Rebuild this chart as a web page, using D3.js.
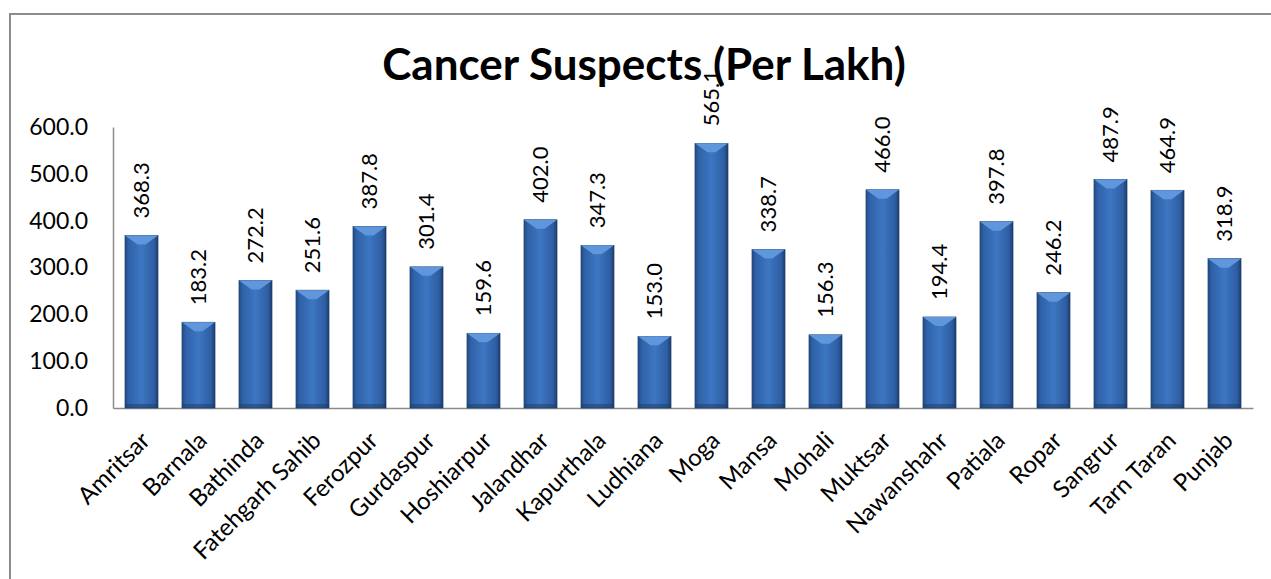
<!DOCTYPE html>
<html>
<head>
<meta charset="utf-8">
<script src="https://cdn.jsdelivr.net/npm/d3@7"></script>
<style>
    body { margin: 0; background: #fff; }
    svg { display: block; font-family: Lato, "Open Sans", sans-serif; }
</style>
</head>
<body>
<svg id="chart" width="1271" height="579"></svg>
<script>
let districts = ['Amritsar', 'Barnala', 'Bathinda', 'Fatehgarh Sahib', 'Ferozpur', 'Gurdaspur',
    'Hoshiarpur', 'Jalandhar', 'Kapurthala', 'Ludhiana', 'Moga', 'Mansa', 'Mohali', 'Muktsar',
    'Nawanshahr', 'Patiala', 'Ropar', 'Sangrur', 'Tarn Taran', 'Punjab'];
let suspects = [368.3, 183.2, 272.2, 251.6, 387.8, 301.4, 159.6, 402.0, 347.3, 153.0,
    565.1, 338.7, 156.3, 466.0, 194.4, 397.8, 246.2, 487.9, 464.9, 318.9];
let yTicks = [0, 100, 200, 300, 400, 500, 600];
let title = 'Cancer Suspects (Per Lakh)';

function draw() {
    const svg = d3.select('#chart');

    // outer chart frame (only top/left edges show in the picture)
    svg.append('rect')
        .attr('x', 10).attr('y', 14)
        .attr('width', 1400).attr('height', 700)
        .attr('fill', 'none')
        .attr('stroke', '#8c8c8c')
        .attr('stroke-width', 2);

    const x = d3.scaleBand()
        .domain(districts)
        .range([113, 1253])
        .paddingInner(0.42)
        .paddingOuter(0.21);

    const y = d3.scaleLinear()
        .domain([0, 600])
        .range([408, 127]);

    // bar gradient
    const defs = svg.append('defs');
    const grad = defs.append('linearGradient')
        .attr('id', 'barGrad')
        .attr('x1', '0%').attr('x2', '100%')
        .attr('y1', '0%').attr('y2', '0%');
    grad.append('stop').attr('offset', '0%').attr('stop-color', '#244c86');
    grad.append('stop').attr('offset', '12%').attr('stop-color', '#2f62a8');
    grad.append('stop').attr('offset', '50%').attr('stop-color', '#3d76c2');
    grad.append('stop').attr('offset', '88%').attr('stop-color', '#2e5ea2');
    grad.append('stop').attr('offset', '100%').attr('stop-color', '#1c3d6e');

    // axes
    const yAxis = d3.axisLeft(y)
        .tickValues(yTicks)
        .tickSize(0)
        .tickPadding(25)
        .tickFormat(d3.format('.1f'));
    const gy = svg.append('g')
        .attr('transform', 'translate(113,0)')
        .call(yAxis);
    gy.select('.domain').attr('stroke', '#8c8c8c').attr('stroke-width', 1.5);
    gy.selectAll('text')
        .attr('font-size', 23)
        .attr('font-family', 'Lato, sans-serif')
        .attr('fill', '#000');

    const xAxis = d3.axisBottom(x).tickSize(0).tickFormat('');
    const gx = svg.append('g')
        .attr('transform', 'translate(0,408)')
        .call(xAxis);
    gx.select('.domain').attr('stroke', '#8c8c8c').attr('stroke-width', 1.5);

    // bars
    const bars = svg.append('g')
        .selectAll('g')
        .data(districts)
        .join('g');

    bars.append('rect')
        .attr('x', d => x(d))
        .attr('y', (d, i) => y(suspects[i]))
        .attr('width', x.bandwidth())
        .attr('height', (d, i) => y(0) - y(suspects[i]))
        .attr('fill', 'url(#barGrad)')
        .attr('stroke', '#1a3a66')
        .attr('stroke-width', 0.6);

    // top bevel
    bars.append('path')
        .attr('d', (d, i) => {
            const x0 = x(d), x1 = x(d) + x.bandwidth(), top = y(suspects[i]);
            const cx = (x0 + x1) / 2;
            return 'M' + x0 + ',' + top + 'L' + x1 + ',' + top +
                'L' + (cx + 4) + ',' + (top + 9) + 'L' + (cx - 4) + ',' + (top + 9) + 'Z';
        })
        .attr('fill', '#5f96dc');

    // bottom shadow
    bars.append('rect')
        .attr('x', d => x(d))
        .attr('y', 404)
        .attr('width', x.bandwidth())
        .attr('height', 4)
        .attr('fill', '#1c3b68')
        .attr('opacity', 0.5);

    // title
    svg.append('text')
        .attr('x', 644)
        .attr('y', 80)
        .attr('text-anchor', 'middle')
        .attr('font-size', 44)
        .attr('font-weight', 'bold')
        .attr('fill', '#000')
        .text(title);

    // value labels
    svg.append('g')
        .selectAll('text')
        .data(districts)
        .join('text')
        .attr('transform', (d, i) =>
            'translate(' + (x(d) + x.bandwidth() / 2) + ',' + (y(suspects[i]) - 17) + ') rotate(-90)')
        .attr('dy', '0.35em')
        .attr('text-anchor', 'start')
        .attr('font-size', 22)
        .attr('fill', '#000')
        .text((d, i) => d3.format('.1f')(suspects[i]));

    // category labels
    svg.append('g')
        .selectAll('text')
        .data(districts)
        .join('text')
        .attr('transform', d =>
            'translate(' + (x(d) + x.bandwidth() / 2 + 4) + ',436) rotate(-45)')
        .attr('text-anchor', 'end')
        .attr('dy', '0.35em')
        .attr('font-size', 24)
        .attr('fill', '#000')
        .text(d => d);
}

draw();
</script>
</body>
</html>
